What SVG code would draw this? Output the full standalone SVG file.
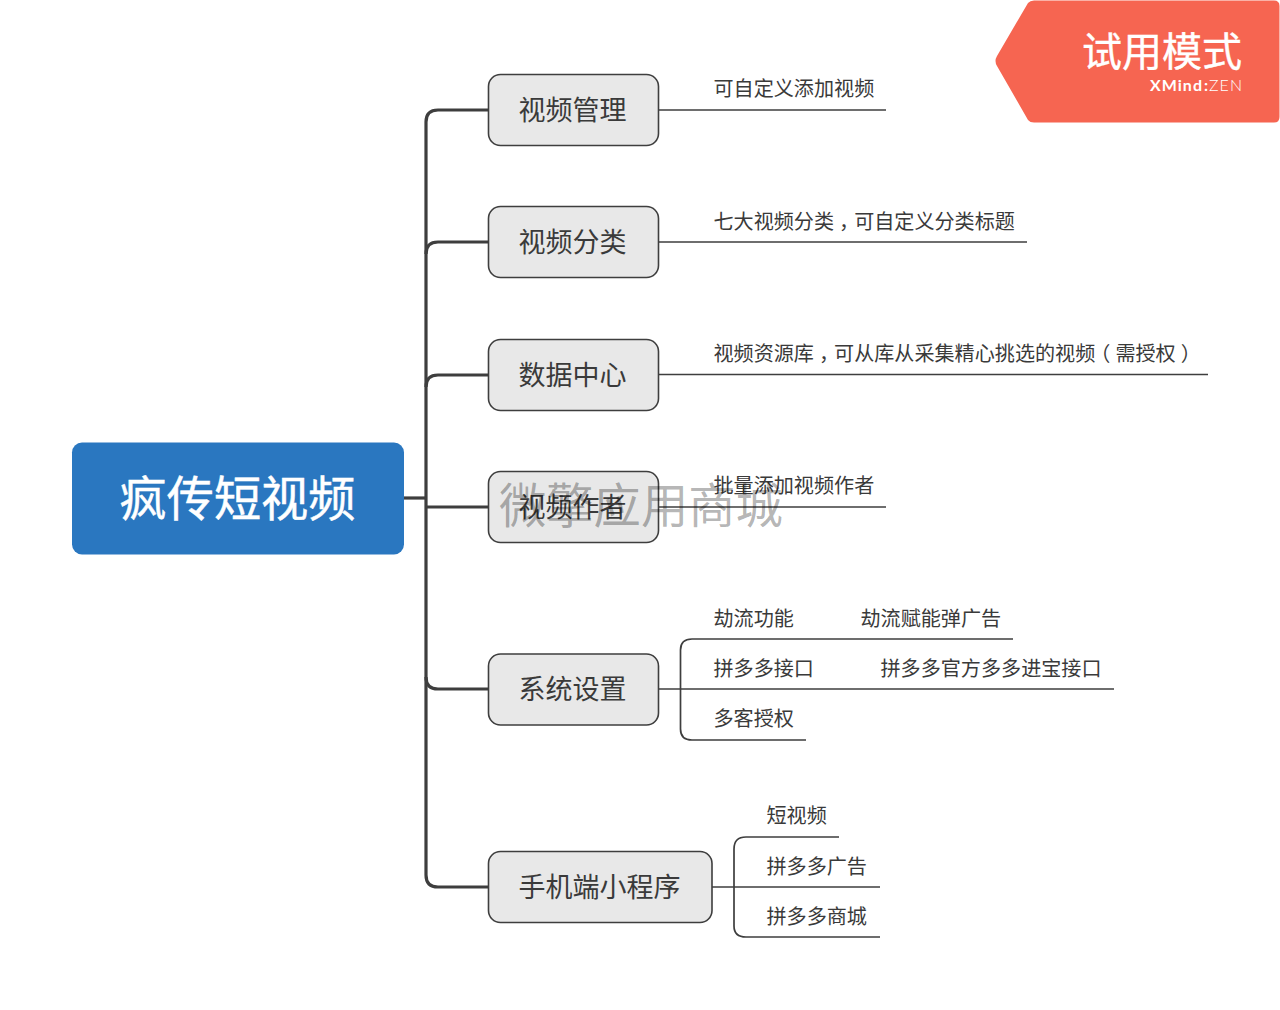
<svg xmlns="http://www.w3.org/2000/svg" width="1280" height="1010" viewBox="0 0 1280 1010">
<style>
text{font-family:"Noto Sans CJK SC","Noto Sans",sans-serif}
.n rect{fill:#e8e8e8;stroke:#3e3e3e;stroke-width:1.6}
.n text{font-size:27px;fill:#3a3a3a}
.l text{font-size:20.100px;fill:#3a3a3a}
.b{font-family:Lato,"Noto Sans",sans-serif;font-size:16px;fill:#fff}
#connectors path{fill:none;stroke:#3e3e3e}
.m{stroke-width:3.200}
.s{stroke-width:1.700}
</style>
<rect width="1280" height="1010" fill="#fff"/>
<g id="connectors">
<path class="m" d="M404 498H426"/>
<path class="m" d="M488 110H438Q426 110 426 122V875Q426 887 438 887H488"/>
<path class="m" d="M488 242H438Q426 242 426 254"/>
<path class="m" d="M488 375H438Q426 375 426 387"/>
<path class="m" d="M426 507H488"/>
<path class="m" d="M426 677Q426 689 438 689H488"/>
<path class="s" d="M659 110H886"/>
<path class="s" d="M659 242H1027"/>
<path class="s" d="M659 374.500H1208"/>
<path class="s" d="M659 507H886"/>
<path class="s" d="M659 689H1114"/>
<path class="s" d="M1013 639H692Q680.500 639 680.500 650V729Q680.500 740 692 740H806"/>
<path class="s" d="M712 887H880"/>
<path class="s" d="M839 837H746Q734 837 734 849V926Q734 937 746 937H880"/>
</g>
<g id="root"><rect x="72" y="442.500" width="332" height="112" rx="10" fill="#2a77c0"/><text x="119.500" y="516" font-size="47.200" fill="#fff" stroke="#fff" stroke-width=".5">疯传短视频</text></g>
<g id="n1" class="n"><rect x="488.500" y="74.500" width="170" height="71" rx="12"/><text x="518.500" y="120">视频管理</text></g>
<g id="n2" class="n"><rect x="488.500" y="206.500" width="170" height="71" rx="12"/><text x="518.500" y="252">视频分类</text></g>
<g id="n3" class="n"><rect x="488.500" y="339.500" width="170" height="71" rx="12"/><text x="518.500" y="385">数据中心</text></g>
<g id="n4" class="n"><rect x="488.500" y="471.500" width="170" height="71" rx="12"/><text x="518.500" y="517">视频作者</text></g>
<g id="n5" class="n"><rect x="488.500" y="654" width="170" height="71" rx="12"/><text x="518.500" y="699">系统设置</text></g>
<g id="n6" class="n"><rect x="488.500" y="851.500" width="223.500" height="71" rx="12"/><text x="518.500" y="897">手机端小程序</text></g>
<g id="leaves" class="l">
<text x="713.500" y="96">可自定义添加视频</text>
<text x="713.500" y="229">七大视频分类<tspan dx="5">，</tspan><tspan dx="-5">可自定义分类标题</tspan></text>
<text x="713.500" y="361">视频资源库<tspan dx="5">，</tspan><tspan dx="-5">可从库从采集精心挑选的视频</tspan><tspan dx="-5">（</tspan><tspan dx="5">需授权</tspan><tspan dx="5">）</tspan></text>
<text x="713.500" y="493">批量添加视频作者</text>
<text x="713.500" y="626">劫流功能</text>
<text x="860.500" y="626">劫流赋能弹广告</text>
<text x="713.500" y="676">拼多多接口</text>
<text x="880.500" y="676">拼多多官方多多进宝接口</text>
<text x="713.500" y="726">多客授权</text>
<text x="766.500" y="823">短视频</text>
<text x="766.500" y="874">拼多多广告</text>
<text x="766.500" y="924">拼多多商城</text>
</g>
<g id="badge"><path d="M1034 0.500H1274Q1279.500 0.500 1279.500 6V117Q1279.500 122.500 1274 122.500H1034Q1030 122.500 1028 120L997 66Q994 61 997 56L1028 3Q1030 0.500 1034 0.500Z" fill="#f66551"/>
<text x="1082" y="66" font-size="40" fill="#fff" stroke="#fff" stroke-width=".4">试用模式</text>
<text class="b" x="1150" y="91" font-weight="700" textLength="52" lengthAdjust="spacing">XMind</text>
<text class="b" x="1204" y="91" font-weight="700">:</text>
<text class="b" x="1209" y="91" font-weight="300" textLength="33" lengthAdjust="spacing">ZEN</text></g>
<text id="watermark" x="499" y="523" font-size="47.300" fill="#000" fill-opacity=".3">微擎应用商城</text>
</svg>
